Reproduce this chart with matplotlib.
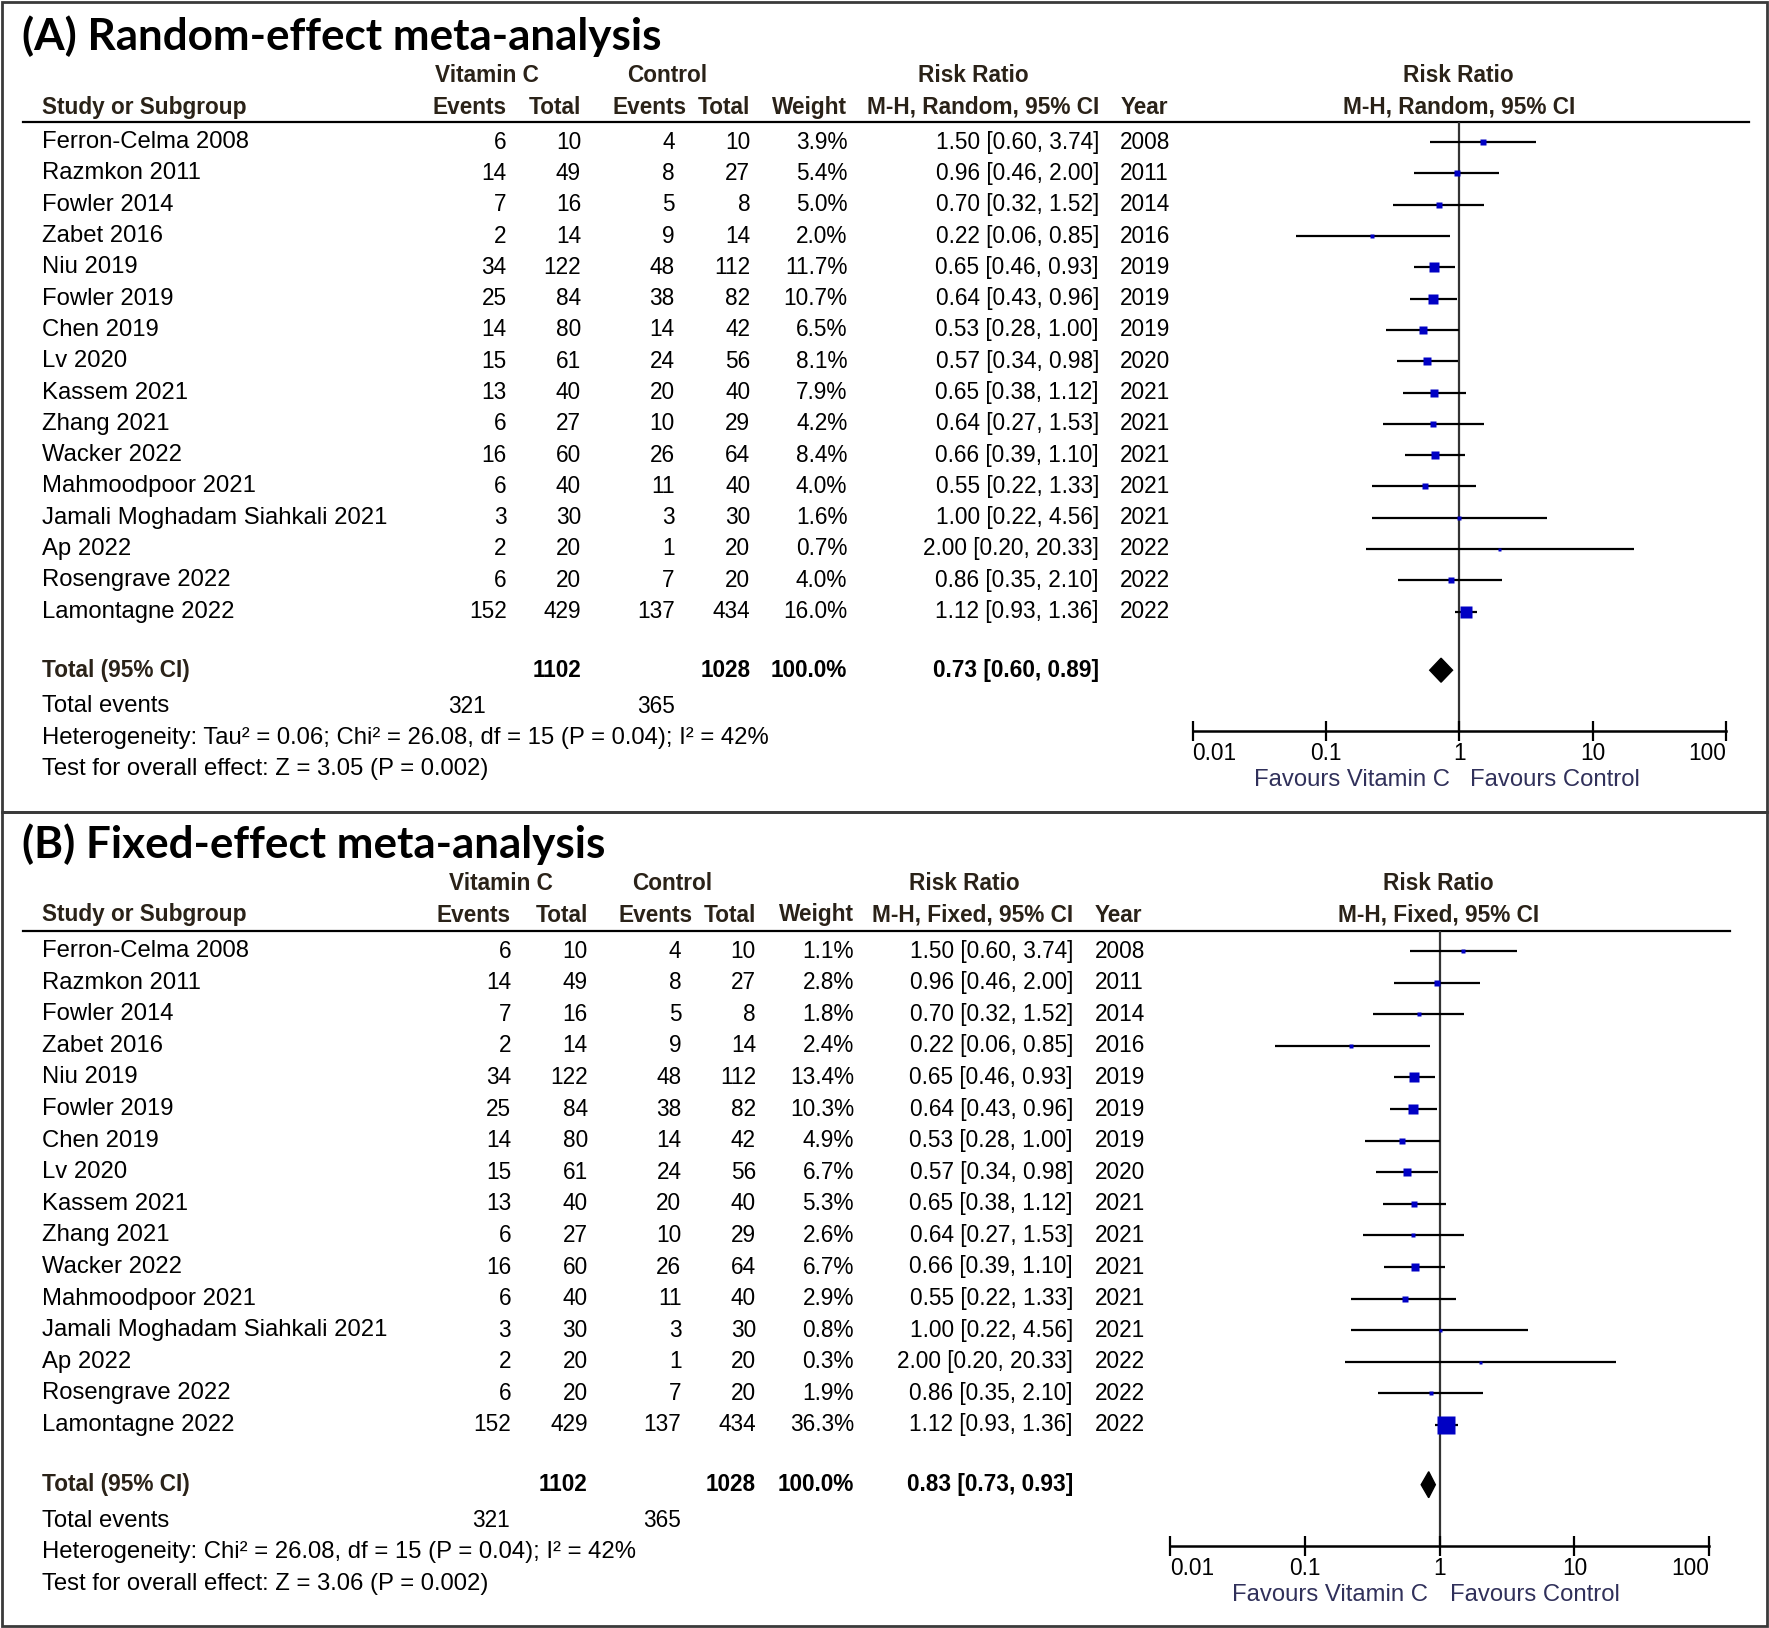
import numpy as np
import matplotlib
matplotlib.use("Agg")
import matplotlib.pyplot as plt
from matplotlib import font_manager
from matplotlib.patches import Rectangle

# ---------------- data ----------------
studies = ["Ferron-Celma 2008", "Razmkon 2011", "Fowler 2014", "Zabet 2016", "Niu 2019",
           "Fowler 2019", "Chen 2019", "Lv 2020", "Kassem 2021", "Zhang 2021", "Wacker 2022",
           "Mahmoodpoor 2021", "Jamali Moghadam Siahkali 2021", "Ap 2022", "Rosengrave 2022",
           "Lamontagne 2022"]
vit_events = [6, 14, 7, 2, 34, 25, 14, 15, 13, 6, 16, 6, 3, 2, 6, 152]
vit_total = [10, 49, 16, 14, 122, 84, 80, 61, 40, 27, 60, 40, 30, 20, 20, 429]
ctl_events = [4, 8, 5, 9, 48, 38, 14, 24, 20, 10, 26, 11, 3, 1, 7, 137]
ctl_total = [10, 27, 8, 14, 112, 82, 42, 56, 40, 29, 64, 40, 30, 20, 20, 434]
rr = [1.50, 0.96, 0.70, 0.22, 0.65, 0.64, 0.53, 0.57, 0.65, 0.64, 0.66, 0.55, 1.00, 2.00, 0.86, 1.12]
rr_lo = [0.60, 0.46, 0.32, 0.06, 0.46, 0.43, 0.28, 0.34, 0.38, 0.27, 0.39, 0.22, 0.22, 0.20, 0.35, 0.93]
rr_hi = [3.74, 2.00, 1.52, 0.85, 0.93, 0.96, 1.00, 0.98, 1.12, 1.53, 1.10, 1.33, 4.56, 20.33, 2.10, 1.36]
years = [2008, 2011, 2014, 2016, 2019, 2019, 2019, 2020, 2021, 2021, 2021, 2021, 2021, 2022, 2022, 2022]
w_random = [3.9, 5.4, 5.0, 2.0, 11.7, 10.7, 6.5, 8.1, 7.9, 4.2, 8.4, 4.0, 1.6, 0.7, 4.0, 16.0]
w_fixed = [1.1, 2.8, 1.8, 2.4, 13.4, 10.3, 4.9, 6.7, 5.3, 2.6, 6.7, 2.9, 0.8, 0.3, 1.9, 36.3]

total_vit = 1102
total_ctl = 1028
events_vit = 321
events_ctl = 365
pooled_random = (0.73, 0.60, 0.89)
pooled_fixed = (0.83, 0.73, 0.93)
het_random = "Heterogeneity: Tau² = 0.06; Chi² = 26.08, df = 15 (P = 0.04); I² = 42%"
het_fixed = "Heterogeneity: Chi² = 26.08, df = 15 (P = 0.04); I² = 42%"
test_random = "Test for overall effect: Z = 3.05 (P = 0.002)"
test_fixed = "Test for overall effect: Z = 3.06 (P = 0.002)"
tick_vals = [0.01, 0.1, 1, 10, 100]
tick_labels = ["0.01", "0.1", "1", "10", "100"]

# ---------------- fonts ----------------
avail = {f.name for f in font_manager.fontManager.ttflist}
BODY = "Liberation Sans" if "Liberation Sans" in avail else "DejaVu Sans"
HEAD = BODY
TITLE = "Lato" if "Lato" in avail else BODY
TEXT_SIZE = 17.2     # words
NUM_SIZE = 16.3      # numeric columns
HEAD_SIZE = 16.3
TITLE_SIZE = 31.7

W, H = 1769, 1628
fig = plt.figure(figsize=(W / 100, H / 100), dpi=100)
bg = fig.add_axes([0, 0, 1, 1])
bg.set_xlim(0, W)
bg.set_ylim(H, 0)
bg.axis("off")

HEADC = "#2a2218"
FAVC = "#30305a"


def T(x, y, s, ha="left", bold=False, head=False, size=None, color="black", family=None):
    fam = family or (HEAD if head else BODY)
    fs = size or (HEAD_SIZE if head else TEXT_SIZE)
    bg.text(x, y, s, ha=ha, va="center", fontsize=fs, family=fam,
            fontweight="bold" if bold else "normal", color=color)


def N(x, y, s, bold=False):
    T(x, y, s, ha="right", bold=bold, size=NUM_SIZE)


def panel(L, weights, pooled, method, het, test):
    T(L["title_x"], L["title_y"], L["title"], bold=True, size=TITLE_SIZE, family=TITLE)
    T(L["vc_c"], L["h1"], "Vitamin C", ha="center", bold=True, head=True, color=HEADC)
    T(L["ct_c"], L["h1"], "Control", ha="center", bold=True, head=True, color=HEADC)
    T(L["rr_c"], L["h1"], "Risk Ratio", ha="center", bold=True, head=True, color=HEADC)
    T(L["fp_c"], L["h1"], "Risk Ratio", ha="center", bold=True, head=True, color=HEADC)
    T(L["study_x"], L["h2"], "Study or Subgroup", bold=True, head=True, color=HEADC)
    T(L["e1"], L["h2"], "Events", ha="right", bold=True, head=True, color=HEADC)
    T(L["t1"], L["h2"], "Total", ha="right", bold=True, head=True, color=HEADC)
    T(L["e2h"], L["h2"], "Events", ha="right", bold=True, head=True, color=HEADC)
    T(L["t2"], L["h2"], "Total", ha="right", bold=True, head=True, color=HEADC)
    T(L["w"], L["h2"], "Weight", ha="right", bold=True, head=True, color=HEADC)
    T(L["rr"], L["h2"], f"M-H, {method}, 95% CI", ha="right", bold=True, head=True, color=HEADC)
    T(L["year_x"], L["h2"], "Year", bold=True, head=True, color=HEADC)
    T(L["fp_c"], L["h2"], f"M-H, {method}, 95% CI", ha="center", bold=True, head=True, color=HEADC)
    bg.plot([L["line_x0"], L["line_x1"]], [L["hline"], L["hline"]], color="black", lw=1.6)

    rows = [L["row0"] + L["dy"] * i for i in range(len(studies))]
    for i, y in enumerate(rows):
        T(L["study_x"], y, studies[i])
        N(L["e1"], y, str(vit_events[i]))
        N(L["t1"], y, str(vit_total[i]))
        N(L["e2"], y, str(ctl_events[i]))
        N(L["t2"], y, str(ctl_total[i]))
        N(L["w"], y, f"{weights[i]:.1f}%")
        N(L["rr"], y, f"{rr[i]:.2f} [{rr_lo[i]:.2f}, {rr_hi[i]:.2f}]")
        T(L["year_x"], y, str(years[i]), size=NUM_SIZE)

    yt = L["total_y"]
    T(L["study_x"], yt, "Total (95% CI)", bold=True, head=True, color=HEADC)
    T(L["t1"], yt, str(total_vit), ha="right", bold=True, head=True)
    T(L["t2"], yt, str(total_ctl), ha="right", bold=True, head=True)
    T(L["w"], yt, "100.0%", ha="right", bold=True, head=True)
    T(L["rr"], yt, f"{pooled[0]:.2f} [{pooled[1]:.2f}, {pooled[2]:.2f}]", ha="right", bold=True, head=True)
    T(L["study_x"], L["ev_y"], "Total events")
    N(L["ev1"], L["ev_y"], str(events_vit))
    N(L["e2"], L["ev_y"], str(events_ctl))
    T(L["study_x"], L["het_y"], het)
    T(L["study_x"], L["test_y"], test)

    # forest plot axes
    x0, x1 = L["fx0"], L["fx1"]
    top, bot = L["hline"], L["axis_y"]
    ax = fig.add_axes([x0 / W, 1 - bot / H, (x1 - x0) / W, (bot - top) / H])
    ax.set_xscale("log")
    ax.set_xlim(tick_vals[0], tick_vals[-1])
    ax.set_ylim(bot, top)
    ax.patch.set_alpha(0)
    for s in ["top", "right", "left"]:
        ax.spines[s].set_visible(False)
    ax.spines["bottom"].set_linewidth(1.8)
    ax.set_yticks([])
    ax.set_xticks(tick_vals)
    ax.set_xticklabels(tick_labels)
    ax.minorticks_off()
    ax.tick_params(axis="x", direction="inout", length=14, width=1.6, pad=1,
                   labelsize=NUM_SIZE)
    for lab in ax.get_xticklabels():
        lab.set_family(BODY)
    labs = ax.get_xticklabels()
    labs[0].set_ha("left")
    labs[-1].set_ha("right")
    ax.axvline(1, color="#333333", lw=1.6, zorder=1)

    for i, y in enumerate(rows):
        ax.hlines(y, rr_lo[i], rr_hi[i], color="black", lw=1.6, zorder=2)
        side_px = max(3.0 * np.sqrt(weights[i]), 3.0)
        ax.plot(rr[i], y, marker="s", ms=side_px * 0.72, color="#0000c4",
                mec="none", zorder=3)
    est, lo, hi = pooled
    hh = L["dia_h"]
    ax.fill([lo, est, hi, est], [yt, yt - hh, yt, yt + hh], color="black", zorder=3)

    T(L["fav_r"], L["fav_y"], "Favours Vitamin C", ha="right", color=FAVC)
    T(L["fav_l"], L["fav_y"], "Favours Control", color=FAVC)


LA = dict(title="(A) Random-effect meta-analysis", title_x=22, title_y=36,
          h1=75.6, h2=107.2, hline=121.8, line_x0=22.6, line_x1=1748.7,
          row0=142.2, dy=31.29, total_y=670.2, ev_y=706.2, het_y=737.8, test_y=769.4,
          axis_y=731.1, fav_y=779.6,
          study_x=41.7, e1=506.6, t1=581.0, e2=674.7, e2h=687.0, t2=750.3, w=847.3,
          rr=1098.9, year_x=1120.3, vc_c=487.4, ct_c=666.8, rr_c=973.6, fp_c=1458.8,
          ev1=486.3, fx0=1192.5, fx1=1726.1, fav_r=1449.7, fav_l=1470.0, dia_h=12)

LB = dict(title="(B) Fixed-effect meta-analysis", title_x=22, title_y=844,
          h1=883.4, h2=915.0, hline=930.8, line_x0=22.6, line_x1=1729.5,
          row0=951.1, dy=31.59, total_y=1484.7, ev_y=1520.8, het_y=1552.4, test_y=1584.0,
          axis_y=1545.6, fav_y=1595.3,
          study_x=41.7, e1=511.0, t1=587.8, e2=681.4, e2h=692.7, t2=755.9, w=854.0,
          rr=1072.9, year_x=1094.4, vc_c=500.9, ct_c=672.4, rr_c=964.6, fp_c=1438.5,
          ev1=510.0, fx0=1170.0, fx1=1709.2, fav_r=1428.0, fav_l=1449.7, dia_h=13)

panel(LA, w_random, pooled_random, "Random", het_random, test_random)
panel(LB, w_fixed, pooled_fixed, "Fixed", het_fixed, test_fixed)

# panel borders
bg.add_patch(Rectangle((2, 2), W - 4, 810, fill=False, ec="#3a3a3a", lw=2))
bg.add_patch(Rectangle((2, 812.3), W - 4, H - 814, fill=False, ec="#3a3a3a", lw=2))

fig.savefig("out.png", dpi=100)
